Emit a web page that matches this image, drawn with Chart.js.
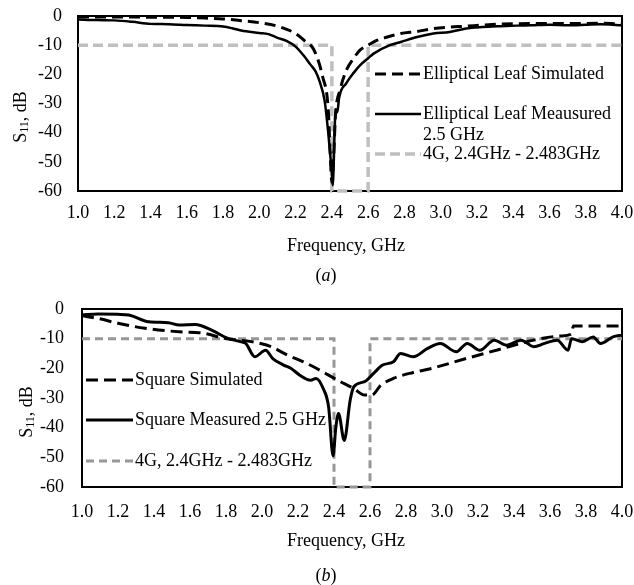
<!DOCTYPE html>
<html>
<head>
<meta charset="utf-8">
<script src="https://cdn.jsdelivr.net/npm/chart.js@4.4.1/dist/chart.umd.min.js"></script>
<style>
  body { margin: 0; background: #fff; }
  #page { position: relative; width: 634px; height: 585px; overflow: hidden; }
  .box { position: absolute; left: 0; }
  .txt { position: absolute; font: 18px "Liberation Serif", "Times New Roman", serif; color: #000;
         white-space: nowrap; line-height: 1; transform: translate(-50%, -50%); }
  .ytitle { transform: translate(-50%, -50%) rotate(-90deg); }
  .ytitle sub { font-size: 12px; vertical-align: -2px; }
</style>
</head>
<body>
<div id="page">
  <div class="box" style="top:0"><canvas id="chartA" width="634" height="255"></canvas></div>
  <div class="box" style="top:290px"><canvas id="chartB" width="634" height="295"></canvas></div>

  <div class="txt ytitle" style="left:20px; top:117px">S<sub>11</sub>, dB</div>
  <div class="txt" style="left:346px; top:245px">Frequency, GHz</div>
  <div class="txt" style="left:326px; top:275px">(<i>a</i>)</div>

  <div class="txt ytitle" style="left:26px; top:412px">S<sub>11</sub>, dB</div>
  <div class="txt" style="left:346px; top:540px">Frequency, GHz</div>
  <div class="txt" style="left:326px; top:575px">(<i>b</i>)</div>
</div>

<script>
// ---- (a) elliptical leaf ----
const freqSimA = [1.0, 1.2, 1.4, 1.6, 1.7, 1.8, 1.9, 2.0, 2.1, 2.2, 2.25, 2.3, 2.35, 2.38, 2.39, 2.40, 2.41, 2.42, 2.445, 2.48,
                  2.52, 2.555, 2.6, 2.65, 2.7, 2.78, 2.87, 2.96, 3.05, 3.14, 3.23, 3.33, 3.5, 3.7, 3.88, 4.0];
const dbSimA = [-0.3, -0.3, -0.4, -0.5, -0.7, -1.0, -1.6, -2.3, -3.5, -6.0, -8.5, -11.5, -21, -32, -46, -57, -48, -34, -25.4, -18.6,
                -14.5, -11.7, -10, -8.3, -7.3, -6.0, -5.3, -4.3, -3.8, -3.5, -3.1, -2.8, -2.6, -2.6, -2.5, -2.7];

const freqMeasA = [1.0, 1.1, 1.2, 1.3, 1.4, 1.5, 1.6, 1.7, 1.8, 1.85, 1.9, 2.0, 2.05, 2.1, 2.15, 2.2, 2.25, 2.28, 2.31, 2.33,
                   2.36, 2.38, 2.40, 2.405, 2.415, 2.42, 2.43, 2.44, 2.48, 2.52, 2.555, 2.6, 2.63, 2.72, 2.78, 2.87, 2.96, 3.05, 3.14, 3.23,
                   3.33, 3.42, 3.5, 3.6, 3.7, 3.8, 3.88, 3.95, 4.0];
const dbMeasA = [-1.2, -1.4, -1.5, -2.0, -2.7, -2.8, -3.1, -3.3, -3.6, -4.2, -5.0, -5.8, -6.2, -7.5, -8.5, -10.5, -14, -16.5, -19, -22,
                 -29, -40, -54, -58, -40, -32, -33, -28, -23, -19.5, -16.9, -14.5, -12.9, -10, -8.9, -7.2, -6.0, -5.5, -4.3, -3.8,
                 -3.5, -3.3, -3.2, -3.0, -3.2, -3.0, -2.8, -3.0, -3.2];

// ---- (b) square ----
const freqSimB = [1.0, 1.09, 1.2, 1.35, 1.54, 1.68, 1.79, 1.94, 2.05, 2.14, 2.23, 2.32, 2.42, 2.51, 2.57, 2.61, 2.66, 2.73, 2.84, 2.95,
                  3.14, 3.32, 3.51, 3.66, 3.72, 3.73, 4.0];
const dbSimB = [-2.3, -3.2, -4.8, -6.5, -7.7, -8.2, -9.9, -11, -12.7, -15.5, -17.8, -20.6, -24, -26.8, -29, -29, -25.7, -23.4, -21.4, -19.9,
                -16.6, -13.6, -10.5, -9.1, -8.4, -5.7, -5.7];

const freqMeasB = [1.0, 1.09, 1.2, 1.26, 1.37, 1.48, 1.54, 1.63, 1.72, 1.81, 1.88, 1.91, 1.96, 2.02, 2.06, 2.12, 2.16, 2.21, 2.27, 2.30,
                   2.34, 2.37, 2.395, 2.41, 2.425, 2.457, 2.49, 2.51, 2.57, 2.62, 2.67, 2.73, 2.77, 2.84, 2.92, 2.99, 3.08, 3.14, 3.21, 3.29,
                   3.36, 3.44, 3.51, 3.57, 3.64, 3.70, 3.72, 3.78, 3.84, 3.88, 3.95, 4.0];
const dbMeasB = [-2.0, -1.7, -1.8, -2.0, -4.3, -4.6, -5.4, -5.2, -7.1, -9.9, -11, -11.6, -16.1, -13.9, -16.7, -18.9, -20, -22.3, -24, -23.4,
                 -26.8, -33, -49.5, -40, -35.2, -44.3, -30.7, -26.2, -24.5, -21.7, -18.9, -17.8, -15, -16.1, -13.3, -11.6, -14.4, -11.6, -13.9, -10.5,
                 -12.2, -10.5, -12.7, -11.6, -10.5, -13.9, -10, -11, -9.4, -11.6, -9.4, -8.8];

// 4G band mask (same in both)
const bandFreq = [1.0, 2.4, 2.4, 2.6, 2.6, 4.0];
const bandDb = [-10, -10, -60, -60, -10, -10];

const FONT = '"Liberation Serif", "Times New Roman", serif';

function pts(xs, ys) {
    return xs.map((x, i) => ({ x: x, y: ys[i] }));
}

// black box round the plot area
const plotFrame = {
    id: 'plotFrame',
    beforeDatasetsDraw(chart) {
        const { ctx, chartArea: a } = chart;
        ctx.save();
        ctx.strokeStyle = '#000';
        ctx.lineWidth = 2;
        ctx.strokeRect(a.left, a.top, a.right - a.left, a.bottom - a.top);
        ctx.restore();
    }
};

// legend drawn inside the plot, like the Excel original
const insideLegend = {
    id: 'insideLegend',
    afterDatasetsDraw(chart, args, opts) {
        const ctx = chart.ctx;
        chart.data.datasets.forEach((ds, i) => {
            const y = opts.rows[i];
            ctx.save();
            ctx.strokeStyle = ds.borderColor;
            ctx.lineWidth = ds.borderWidth;
            ctx.setLineDash(ds.borderDash || []);
            ctx.beginPath();
            ctx.moveTo(opts.x, y);
            ctx.lineTo(opts.x + opts.sample, y);
            ctx.stroke();
            ctx.setLineDash([]);
            ctx.fillStyle = '#000';
            ctx.font = '18px ' + FONT;
            ctx.textBaseline = 'middle';
            ds.label.split('\n').forEach((t, k) => {
                ctx.fillText(t, opts.x + opts.sample + 2, y + k * 21);
            });
            ctx.restore();
        });
    }
};

function makeChart(id, sets, box, legendOpts) {
    return new Chart(document.getElementById(id), {
        type: 'line',
        data: { datasets: sets },
        options: {
            responsive: false,
            animation: false,
            layout: { padding: { left: 0, right: box.right, top: box.top, bottom: 0 } },
            elements: { point: { radius: 0 } },
            plugins: {
                legend: { display: false },
                tooltip: { enabled: false },
                insideLegend: legendOpts
            },
            scales: {
                x: {
                    type: 'linear',
                    min: 1,
                    max: 4,
                    afterFit: (s) => {
                        s.height = box.xh;
                        s.paddingLeft = 0;
                        s.paddingRight = 0;
                    },
                    border: { display: false },
                    grid: { display: false, drawTicks: false },
                    ticks: {
                        stepSize: 0.2,
                        autoSkip: false,
                        maxRotation: 0,
                        padding: box.xpad,
                        color: '#000',
                        font: { family: FONT, size: 18 },
                        callback: (v) => Number(v).toFixed(1)
                    }
                },
                y: {
                    min: -60,
                    max: 0,
                    afterFit: (s) => {
                        s.width = box.yw;
                        s.paddingTop = 0;
                        s.paddingBottom = 0;
                    },
                    border: { display: false },
                    grid: { display: false, drawTicks: false },
                    ticks: {
                        stepSize: 10,
                        padding: box.ypad,
                        color: '#000',
                        font: { family: FONT, size: 18 }
                    }
                }
            }
        },
        plugins: [plotFrame, insideLegend]
    });
}

makeChart('chartA', [
    {
        label: 'Elliptical Leaf Simulated',
        data: pts(freqSimA, dbSimA),
        borderColor: '#000', borderWidth: 3, borderDash: [11, 6],
        cubicInterpolationMode: 'monotone', clip: false
    },
    {
        label: 'Elliptical Leaf Meausured\n2.5 GHz',
        data: pts(freqMeasA, dbMeasA),
        borderColor: '#000', borderWidth: 2.5,
        cubicInterpolationMode: 'monotone', clip: false
    },
    {
        label: '4G, 2.4GHz - 2.483GHz',
        data: pts(bandFreq, bandDb),
        borderColor: '#bfbfbf', borderWidth: 3.5, borderDash: [10, 5],
        tension: 0, clip: false
    }
], { top: 16, right: 12, xh: 64, yw: 78, ypad: 16, xpad: 11 }, { x: 375, sample: 46, rows: [74, 114, 154] });

makeChart('chartB', [
    {
        label: 'Square Simulated',
        data: pts(freqSimB, dbSimB),
        borderColor: '#000', borderWidth: 3, borderDash: [12, 6],
        cubicInterpolationMode: 'monotone', clip: false
    },
    {
        label: 'Square Measured 2.5 GHz',
        data: pts(freqMeasB, dbMeasB),
        borderColor: '#000', borderWidth: 3,
        cubicInterpolationMode: 'monotone', clip: false
    },
    {
        label: '4G, 2.4GHz - 2.483GHz',
        data: pts(bandFreq, bandDb),
        borderColor: '#979797', borderWidth: 3, borderDash: [8, 5],
        tension: 0, clip: false
    }
], { top: 19, right: 12, xh: 98, yw: 82, ypad: 18, xpad: 14 }, { x: 86, sample: 47, rows: [380, 420, 461].map(v => v - 290) });
</script>
</body>
</html>
